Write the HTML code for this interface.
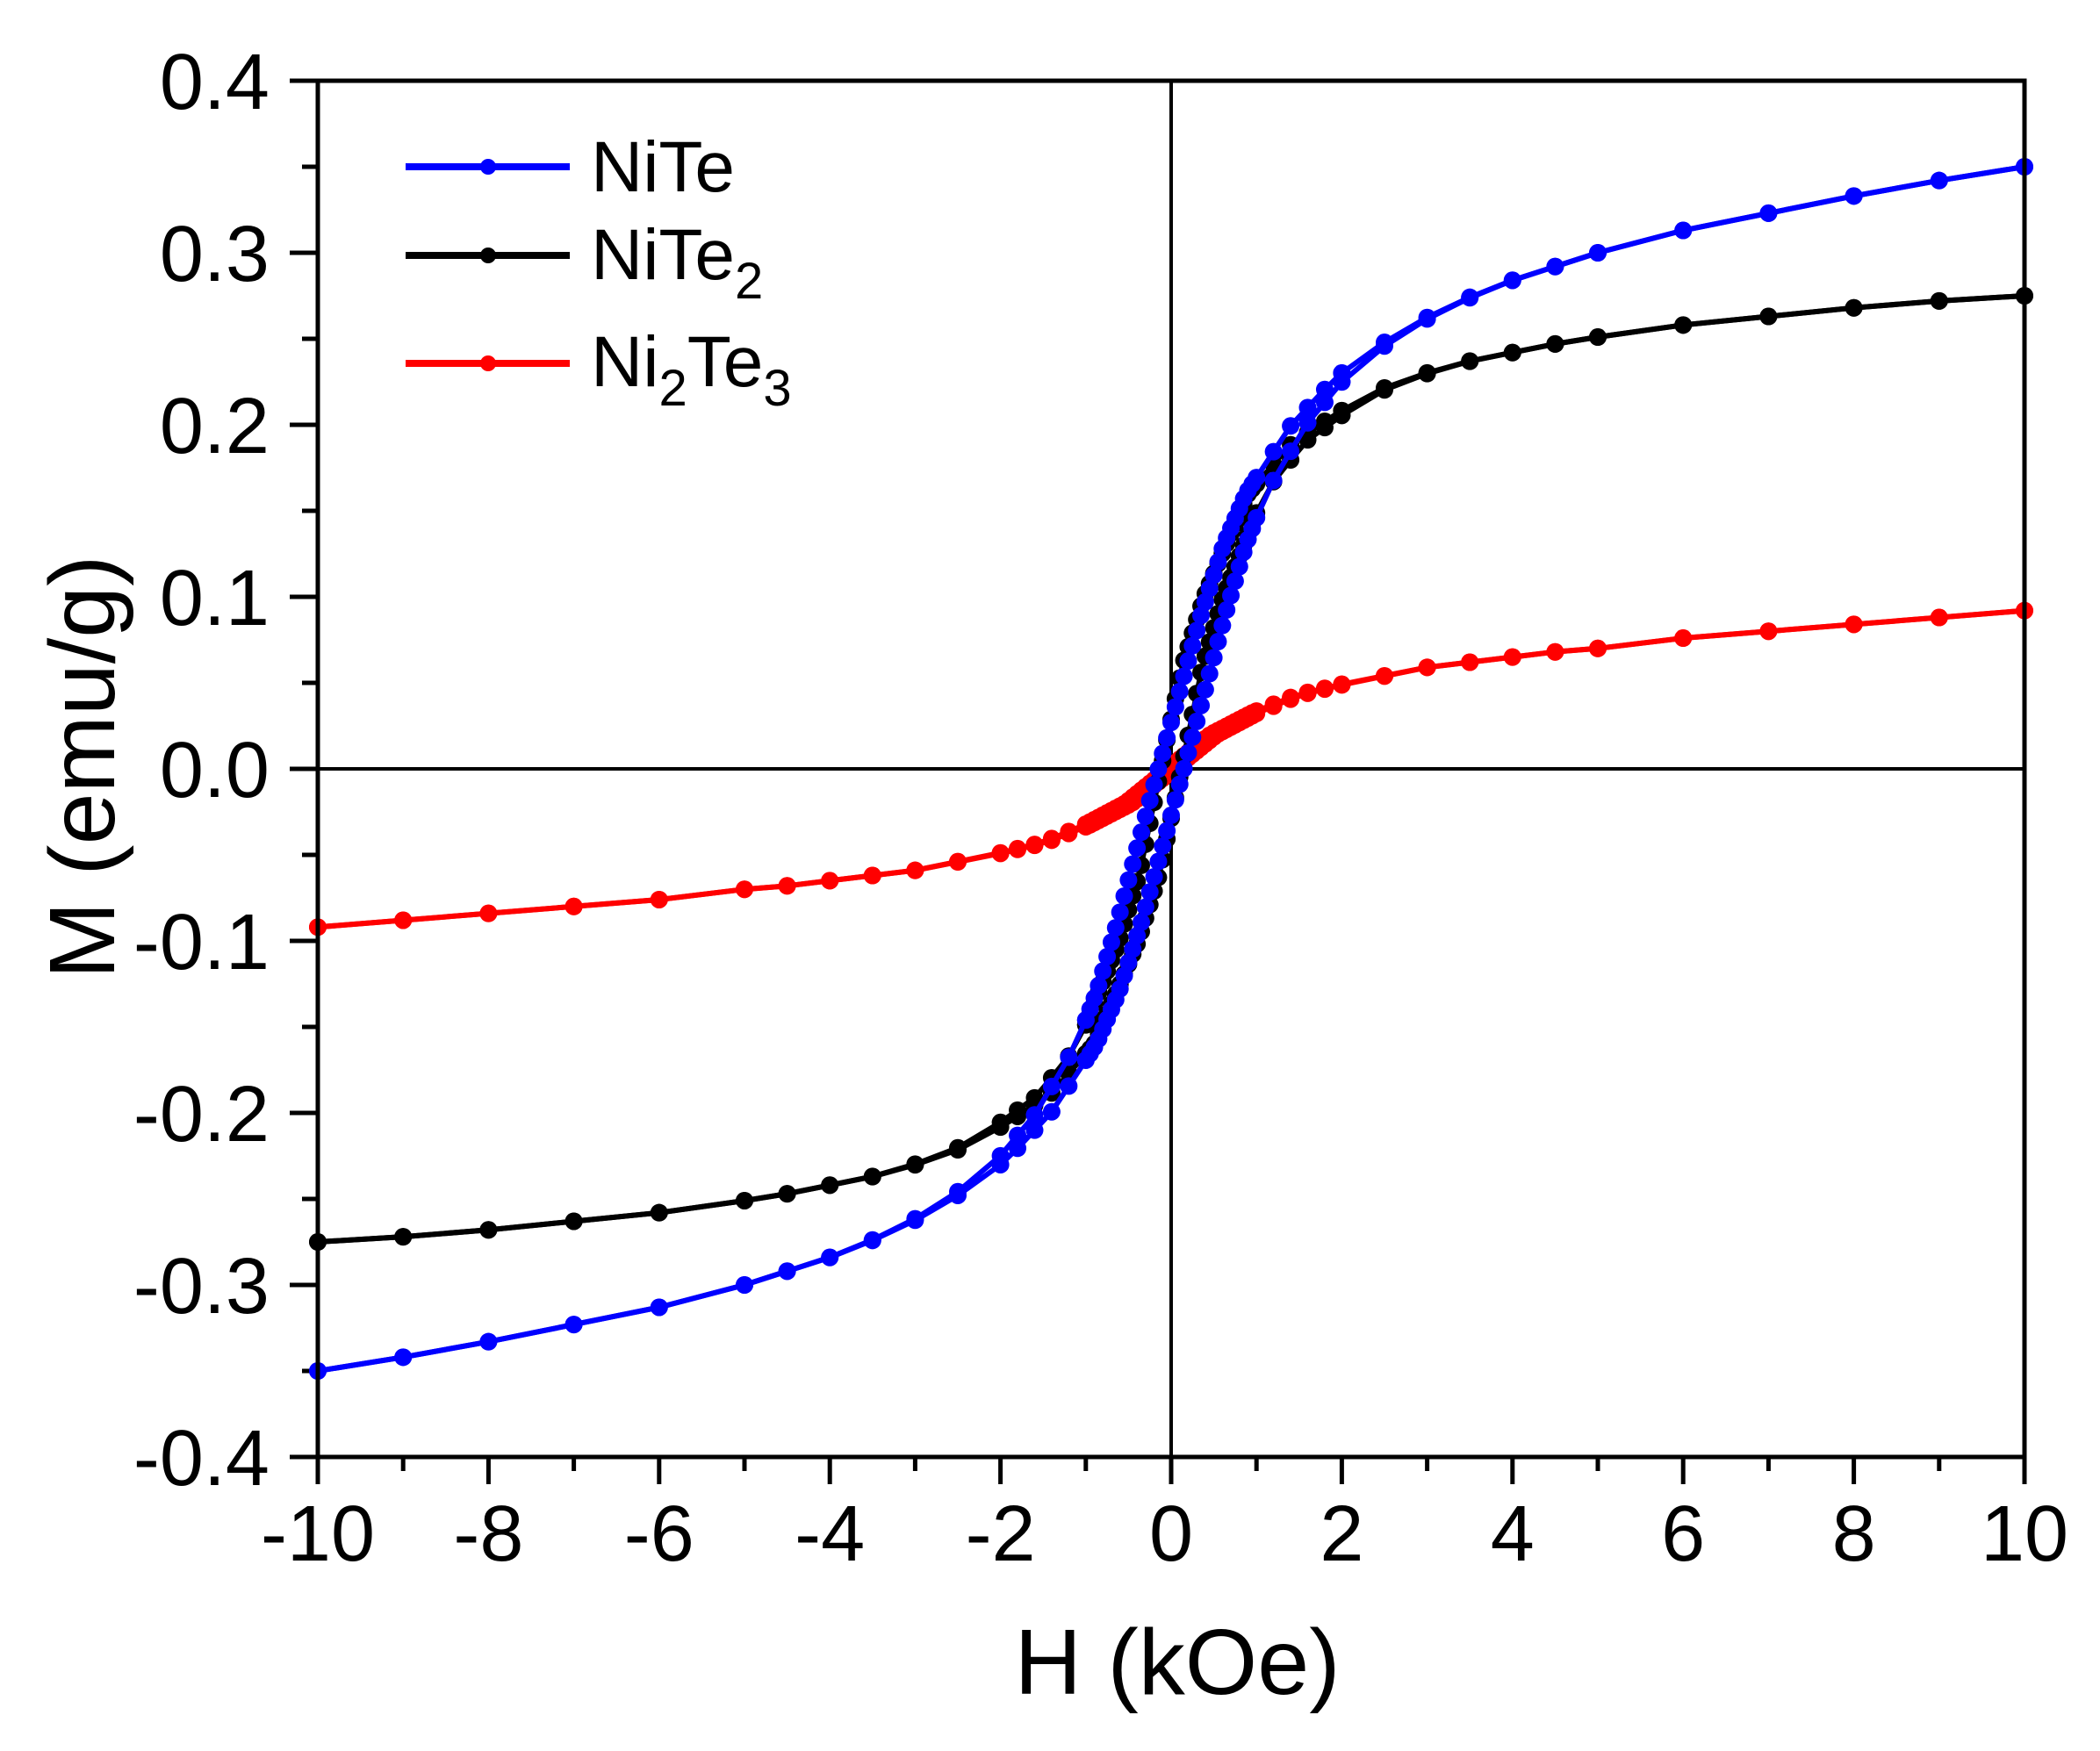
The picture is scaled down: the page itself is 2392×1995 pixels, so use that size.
<!DOCTYPE html>
<html><head><meta charset="utf-8"><style>
html,body{margin:0;padding:0;background:#fff;}
svg{display:block;}
text{font-family:"Liberation Sans",Arial,sans-serif;fill:#000;}
</style></head><body>
<svg id="s" width="2392" height="1995" viewBox="0 0 2392 1995" xmlns="http://www.w3.org/2000/svg">
<g id="ticks" stroke="#000" stroke-width="5"></g>
<line x1="362" y1="876" x2="2306" y2="876" stroke="#000" stroke-width="4"/>
<line x1="1334" y1="92" x2="1334" y2="1660" stroke="#000" stroke-width="4"/>
<g id="data"></g>
<rect x="362" y="92" width="1944" height="1568" fill="none" stroke="#000" stroke-width="5"/>
<g font-size="90" id="lbl"></g>
<text x="0" y="0" font-size="106" text-anchor="middle" transform="translate(130,874) rotate(-90)">M (emu/g)</text>
<text x="1341" y="1930" font-size="106" text-anchor="middle">H (kOe)</text>
<g font-size="82">
<line x1="462" y1="190" x2="649" y2="190" stroke="#0000ff" stroke-width="8"/><circle cx="556" cy="190" r="9" fill="#0000ff"/>
<text x="673" y="218">NiTe</text>
<line x1="462" y1="291" x2="649" y2="291" stroke="#000" stroke-width="8"/><circle cx="556" cy="291" r="9" fill="#000"/>
<text x="673" y="318">NiTe<tspan font-size="58" dy="22">2</tspan></text>
<line x1="462" y1="414" x2="649" y2="414" stroke="#ff0000" stroke-width="8"/><circle cx="556" cy="414" r="9" fill="#ff0000"/>
<text x="673" y="440">Ni<tspan font-size="58" dy="22">2</tspan><tspan dy="-22">Te</tspan><tspan font-size="58" dy="22">3</tspan></text>
</g>
</svg>
<script>
var NS="http://www.w3.org/2000/svg";
function X(h){return 1334+h*97.2;}
function Y(m){return 876-m*1960;}
function el(t,a,p){var e=document.createElementNS(NS,t);for(var k in a)e.setAttribute(k,a[k]);p.appendChild(e);return e;}
var tk=document.getElementById('ticks'),lb=document.getElementById('lbl');
for(var i=-8;i<=8;i++){var m=i*0.05,y=Y(m),maj=(i%2==0);
 el('line',{x1:362-(maj?32:18),y1:y,x2:362,y2:y},tk);
 if(maj){var t=el('text',{x:307,y:y+32,'text-anchor':'end'},lb);t.textContent=(m<0?'-':'')+Math.abs(m).toFixed(1);}}
for(var h=-10;h<=10;h++){var x=X(h),maj=(h%2==0);
 el('line',{x1:x,y1:1660,x2:x,y2:1660+(maj?31:16)},tk);
 if(maj){var t=el('text',{x:x,y:1778,'text-anchor':'middle'},lb);t.textContent=String(h);}}
function interp(P,h){var s=h<0?-1:1,a=Math.abs(h);if(a>=10)return s*P[P.length-1][1];
 for(var i=1;i<P.length;i++){if(a<=P[i][0]){var p=P[i-1],q=P[i];return s*(p[1]+(q[1]-p[1])*(a-p[0])/(q[0]-p[0]));}}}
var S=[
 {c:'#ff0000',hc:0.04,P:[[0,0],[0.5,0.02],[1,0.033],[1.5,0.043],[2,0.049],[2.5,0.054],[3,0.059],[3.5,0.062],[4,0.065],[4.5,0.068],[5,0.07],[6,0.076],[7,0.08],[8,0.084],[9,0.088],[10,0.092]]},
 {c:'#000000',hc:0.12,P:[[0,0],[0.25,0.06],[0.5,0.1],[0.75,0.13],[1,0.16],[1.5,0.19],[2,0.207],[2.5,0.221],[3,0.23],[3.5,0.237],[4,0.242],[4.5,0.247],[5,0.251],[6,0.258],[7,0.263],[8,0.268],[9,0.272],[10,0.275]]},
 {c:'#0000ff',hc:0.15,P:[[0,0],[0.25,0.045],[0.5,0.09],[0.75,0.13],[1,0.16],[1.5,0.2],[2,0.228],[2.5,0.247],[3,0.262],[3.5,0.274],[4,0.284],[4.5,0.292],[5,0.3],[6,0.313],[7,0.323],[8,0.333],[9,0.342],[10,0.35]]}];
var Hs=[];for(var h=-10;h<-5;h+=1)Hs.push(h);for(var h=-5;h<-2;h+=0.5)Hs.push(h);for(var h=-2;h<-1;h+=0.2)Hs.push(h);for(var h=-1;h<=1.0001;h+=0.05)Hs.push(+h.toFixed(3));for(var h=1.2;h<2;h+=0.2)Hs.push(h);for(var h=2;h<5;h+=0.5)Hs.push(h);for(var h=5;h<=10;h+=1)Hs.push(h);
var dg=document.getElementById('data');
S.forEach(function(s){
 function desc(h){return interp(s.P,h+s.hc*Math.exp(-(h/2)*(h/2)));}
 function asc(h){return -desc(-h);}
 [desc,asc].forEach(function(f){var pts=Hs.map(function(h){return [X(h),Y(f(h))];});
  el('polyline',{points:pts.map(function(p){return p[0].toFixed(1)+','+p[1].toFixed(1);}).join(' '),fill:'none',stroke:s.c,'stroke-width':6},dg);
  pts.forEach(function(p){el('circle',{cx:p[0],cy:p[1],r:10,fill:s.c},dg);});});
});
</script>
</body></html>
